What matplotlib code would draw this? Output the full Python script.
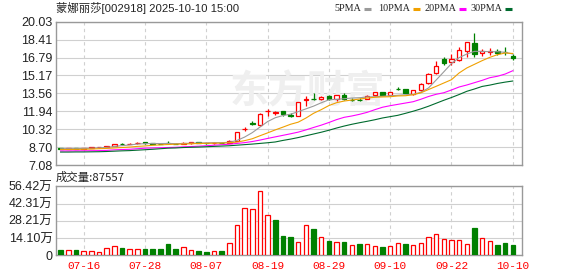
import numpy as np
import matplotlib.pyplot as plt

plt.rcParams["font.family"] = ["Liberation Sans", "Noto Sans CJK SC"]

# ---- data -----------------------------------------------------------------
opens = [8.60, 8.53, 8.60, 8.55, 8.66, 8.67, 8.73, 8.80, 9.02, 8.97,
         9.03, 9.15, 9.04, 9.02, 9.06, 9.02, 8.98, 9.03, 9.12, 9.08,
         9.05, 9.10, 9.10, 9.25, 10.30, 10.90, 10.69, 11.94, 11.82, 11.92,
         11.60, 11.53, 12.95, 13.06, 13.03, 13.32, 13.05, 13.40, 12.98, 12.95,
         13.08, 13.40, 13.67, 13.43, 13.97, 13.92, 13.50, 13.86, 14.45, 15.35,
         16.63, 16.35, 16.57, 17.41, 18.08, 17.17, 17.30, 17.40, 17.28, 16.96]
closes = [8.57, 8.60, 8.55, 8.60, 8.70, 8.70, 8.79, 8.98, 8.98, 9.01,
          9.07, 9.03, 9.02, 8.98, 9.03, 8.98, 9.10, 9.18, 9.08, 9.05,
          9.08, 9.06, 9.25, 10.03, 10.35, 10.82, 11.66, 11.98, 11.85, 11.65,
          11.55, 12.74, 13.01, 13.02, 13.20, 13.01, 13.38, 13.07, 12.95, 12.92,
          13.35, 13.67, 13.43, 13.67, 13.93, 13.61, 13.86, 14.40, 15.30, 16.02,
          16.32, 16.65, 17.47, 18.17, 17.10, 17.38, 17.40, 17.24, 17.25, 16.75]
highs = [8.63, 8.62, 8.62, 8.63, 8.74, 8.75, 8.82, 9.02, 9.08, 9.08,
         9.12, 9.17, 9.08, 9.05, 9.25, 9.04, 9.13, 9.20, 9.16, 9.10,
         9.12, 9.18, 9.35, 10.08, 10.55, 11.10, 11.75, 12.15, 11.95, 12.00,
         11.75, 12.74, 13.28, 13.58, 13.28, 13.40, 13.42, 13.55, 13.12, 13.10,
         13.40, 13.72, 13.72, 13.72, 14.15, 13.98, 13.90, 14.45, 15.35, 16.45,
         16.80, 17.10, 17.72, 18.20, 19.04, 17.60, 17.65, 17.55, 17.72, 17.10]
lows = [8.52, 8.50, 8.52, 8.53, 8.63, 8.64, 8.70, 8.77, 8.93, 8.94,
        8.98, 9.00, 8.97, 8.95, 9.00, 8.94, 8.96, 9.01, 9.05, 9.02,
        9.02, 9.03, 9.06, 9.22, 10.15, 10.65, 10.62, 11.55, 11.62, 11.55,
        11.40, 11.50, 12.45, 12.95, 12.95, 12.95, 12.90, 12.98, 12.85, 12.85,
        13.02, 13.35, 13.38, 13.40, 13.85, 13.55, 13.45, 13.80, 14.40, 15.30,
        16.10, 16.10, 16.50, 16.85, 16.80, 16.95, 17.05, 17.05, 17.00, 16.60]

ma5 = [8.55, 8.56, 8.56, 8.57, 8.60, 8.63, 8.67, 8.75, 8.83, 8.89,
       8.97, 9.01, 9.02, 9.02, 9.03, 9.01, 9.02, 9.05, 9.07, 9.08,
       9.10, 9.10, 9.13, 9.30, 9.60, 10.00, 10.50, 11.00, 11.35, 11.55,
       11.67, 11.90, 12.15, 12.40, 12.70, 12.97, 13.01, 13.07, 13.13, 13.16,
       13.23, 13.25, 13.29, 13.34, 13.38, 13.43, 13.47, 13.65, 14.04, 14.76,
       15.50, 16.25, 16.78, 17.11, 17.35, 17.35, 17.32, 17.32, 17.26, 17.11]
ma10 = [8.48, 8.48, 8.49, 8.50, 8.52, 8.55, 8.58, 8.62, 8.66, 8.70,
        8.76, 8.80, 8.86, 8.90, 8.93, 8.96, 8.98, 9.00, 9.02, 9.04,
        9.05, 9.06, 9.09, 9.15, 9.28, 9.45, 9.72, 9.98, 10.25, 10.50,
        10.76, 10.95, 11.32, 11.75, 12.08, 12.45, 12.71, 12.86, 12.95, 13.04,
        13.13, 13.20, 13.23, 13.25, 13.32, 13.34, 13.43, 13.60, 13.90, 14.19,
        14.49, 14.79, 15.40, 15.85, 16.18, 16.51, 16.81, 17.05, 17.20, 17.16]
ma20 = [8.35, 8.35, 8.36, 8.36, 8.37, 8.38, 8.40, 8.45, 8.48, 8.50,
        8.55, 8.60, 8.62, 8.64, 8.66, 8.68, 8.72, 8.75, 8.78, 8.82,
        8.87, 8.91, 8.96, 9.03, 9.10, 9.20, 9.33, 9.48, 9.62, 9.76,
        9.90, 10.05, 10.25, 10.47, 10.68, 10.92, 11.18, 11.39, 11.51, 11.66,
        11.84, 12.08, 12.30, 12.44, 12.56, 12.68, 12.80, 13.02, 13.27, 13.47,
        13.61, 13.86, 14.13, 14.31, 14.52, 14.73, 14.97, 15.10, 15.30, 15.60]
ma30 = [8.25, 8.25, 8.26, 8.26, 8.27, 8.28, 8.30, 8.33, 8.36, 8.38,
        8.42, 8.46, 8.50, 8.55, 8.60, 8.62, 8.66, 8.68, 8.70, 8.73,
        8.76, 8.79, 8.82, 8.87, 8.92, 8.97, 9.03, 9.09, 9.16, 9.30,
        9.42, 9.56, 9.72, 9.88, 10.04, 10.22, 10.42, 10.60, 10.76, 10.90,
        11.03, 11.17, 11.33, 11.45, 11.57, 11.75, 11.94, 12.15, 12.39, 12.66,
        12.93, 13.18, 13.45, 13.74, 13.95, 14.18, 14.30, 14.45, 14.57, 14.67]

# volume in 万 shares, and whether the volume bar is drawn red (up)
volume = [4.4, 4.4, 4.4, 3.5, 3.5, 2.7, 6.0, 7.6, 6.0, 5.2,
          5.2, 5.2, 5.2, 5.2, 9.3, 5.2, 6.8, 4.4, 3.5, 2.7,
          3.3, 3.5, 9.8, 24.5, 38.4, 37.6, 52.3, 32.7, 28.9, 15.8,
          15.0, 10.6, 24.5, 21.5, 14.7, 11.7, 10.6, 10.9, 8.2, 9.3,
          9.3, 7.4, 6.8, 7.4, 10.1, 9.3, 8.2, 10.1, 14.7, 17.4,
          13.1, 12.3, 12.3, 9.3, 22.4, 13.9, 11.4, 8.4, 10.1, 8.76]
vol_up = [0, 1, 0, 1, 1, 1, 1, 1, 0, 1,
          1, 0, 0, 0, 0, 0, 1, 1, 0, 0,
          1, 0, 1, 1, 1, 1, 1, 1, 0, 0,
          0, 1, 1, 0, 1, 0, 1, 0, 1, 0,
          1, 1, 0, 1, 1, 0, 1, 1, 1, 1,
          1, 1, 1, 1, 0, 1, 1, 0, 0, 0]

date_pos = [3, 11, 19, 27, 35, 43, 51, 59]
date_labels = ["07-16", "07-28", "08-07", "08-19", "08-29", "09-10", "09-22", "10-10"]
price_ticks = [7.08, 8.70, 10.32, 11.94, 13.56, 15.17, 16.79, 18.41, 20.03]
vol_ticks = [0, 14.10, 28.21, 42.31, 56.42]
vol_labels = ["0", "14.10万", "28.21万", "42.31万", "56.42万"]

ma_names = ["5PMA", "10PMA", "20PMA", "30PMA"]
ma_colors = ["#9a9a9a", "#f0a000", "#ff00ff", "#006b2e"]

RED = "#ff0000"
GREEN = "#008000"
GRID = "#d0d0d0"
FRAME = "#999999"

# ---- figure ---------------------------------------------------------------
W, H = 578, 276
fig = plt.figure(figsize=(W / 100, H / 100), dpi=100)


def box(left, top, right, bottom):
    return [left / W, 1 - bottom / H, (right - left) / W, (bottom - top) / H]


def px(xp, yp):
    return xp / W, 1 - yp / H


ax = fig.add_axes(box(56, 21.7, 522, 165))
axv = fig.add_axes(box(56, 186.3, 522, 255.3))

x = np.arange(len(closes))
o, c, h, l = map(np.array, (opens, closes, highs, lows))
up = c >= o

for a in (ax, axv):
    a.set_xlim(-0.6, len(closes) + 0.2)
    for s in a.spines.values():
        s.set_color(FRAME)
        s.set_linewidth(1.0)
    a.tick_params(length=0, colors="#222222", labelsize=9)
    for t in date_pos:
        a.axvline(t, color=GRID, lw=0.8, ls=(0, (3, 3)), zorder=0)

# price panel
ax.set_ylim(price_ticks[0], price_ticks[-1])
ax.set_yticks(price_ticks, labels=["%.2f" % v for v in price_ticks])
ax.yaxis.grid(True, color=GRID, lw=0.8)
ax.set_axisbelow(True)
ax.set_xticks([])
ax.tick_params(axis="y", pad=2.5)

ax.text(0.54, 0.51, "东方财富", transform=ax.transAxes, fontsize=28,
        fontweight="bold", color="#efefef", ha="center", va="center",
        family="Noto Sans CJK SC", zorder=1)

col = np.where(up, RED, GREEN)
ax.vlines(x, l, h, colors=col, lw=0.9, zorder=3)
ax.bar(x, np.maximum(np.abs(c - o), 0.03), bottom=np.minimum(o, c), width=0.6,
       color=np.where(up, "white", GREEN), edgecolor=col, lw=0.9, zorder=4)

for ma, mc in zip((ma5, ma10, ma20, ma30), ma_colors):
    ax.plot(x, ma, color=mc, lw=0.8, zorder=5)

# volume panel
vu = np.array(vol_up) == 1
axv.set_ylim(0, vol_ticks[-1])
axv.set_yticks(vol_ticks, labels=vol_labels)
axv.yaxis.grid(True, color=GRID, lw=0.8)
axv.set_axisbelow(True)
axv.tick_params(axis="y", pad=2.5)
axv.bar(x, volume, width=0.6, color=np.where(vu, "white", GREEN),
        edgecolor=np.where(vu, RED, GREEN), lw=0.9, zorder=3)
axv.set_xticks(date_pos, labels=date_labels)
axv.tick_params(axis="x", colors=RED, labelsize=8, pad=4)
for lab in axv.get_xticklabels():
    lab.set_family("Liberation Mono")

# header texts
fig.text(*px(56, 8), "蒙娜丽莎[002918] 2025-10-10 15:00", fontsize=8.2,
         va="center", ha="left", color="#222222",
         family=["Liberation Sans", "Noto Sans CJK SC"])
fig.text(*px(56, 177.5), "成交量:87557", fontsize=8.2, va="center", ha="left",
         color="#222222", family=["Noto Sans CJK SC"])

# legend: label, then a short colour dash
dash_x = [364, 413, 459, 505]
for name, mc, dx in zip(ma_names, ma_colors, dash_x):
    fig.text(*px(dx - 2.5, 8.5), name, fontsize=7.3, va="center", ha="right",
             color="#222222", family="Liberation Serif")
    fig.add_artist(plt.Line2D([dx / W, (dx + 7) / W], [1 - 8.5 / H] * 2,
                              color=mc, lw=2.2, solid_capstyle="butt",
                              transform=fig.transFigure))

fig.savefig("out.png", dpi=100)
